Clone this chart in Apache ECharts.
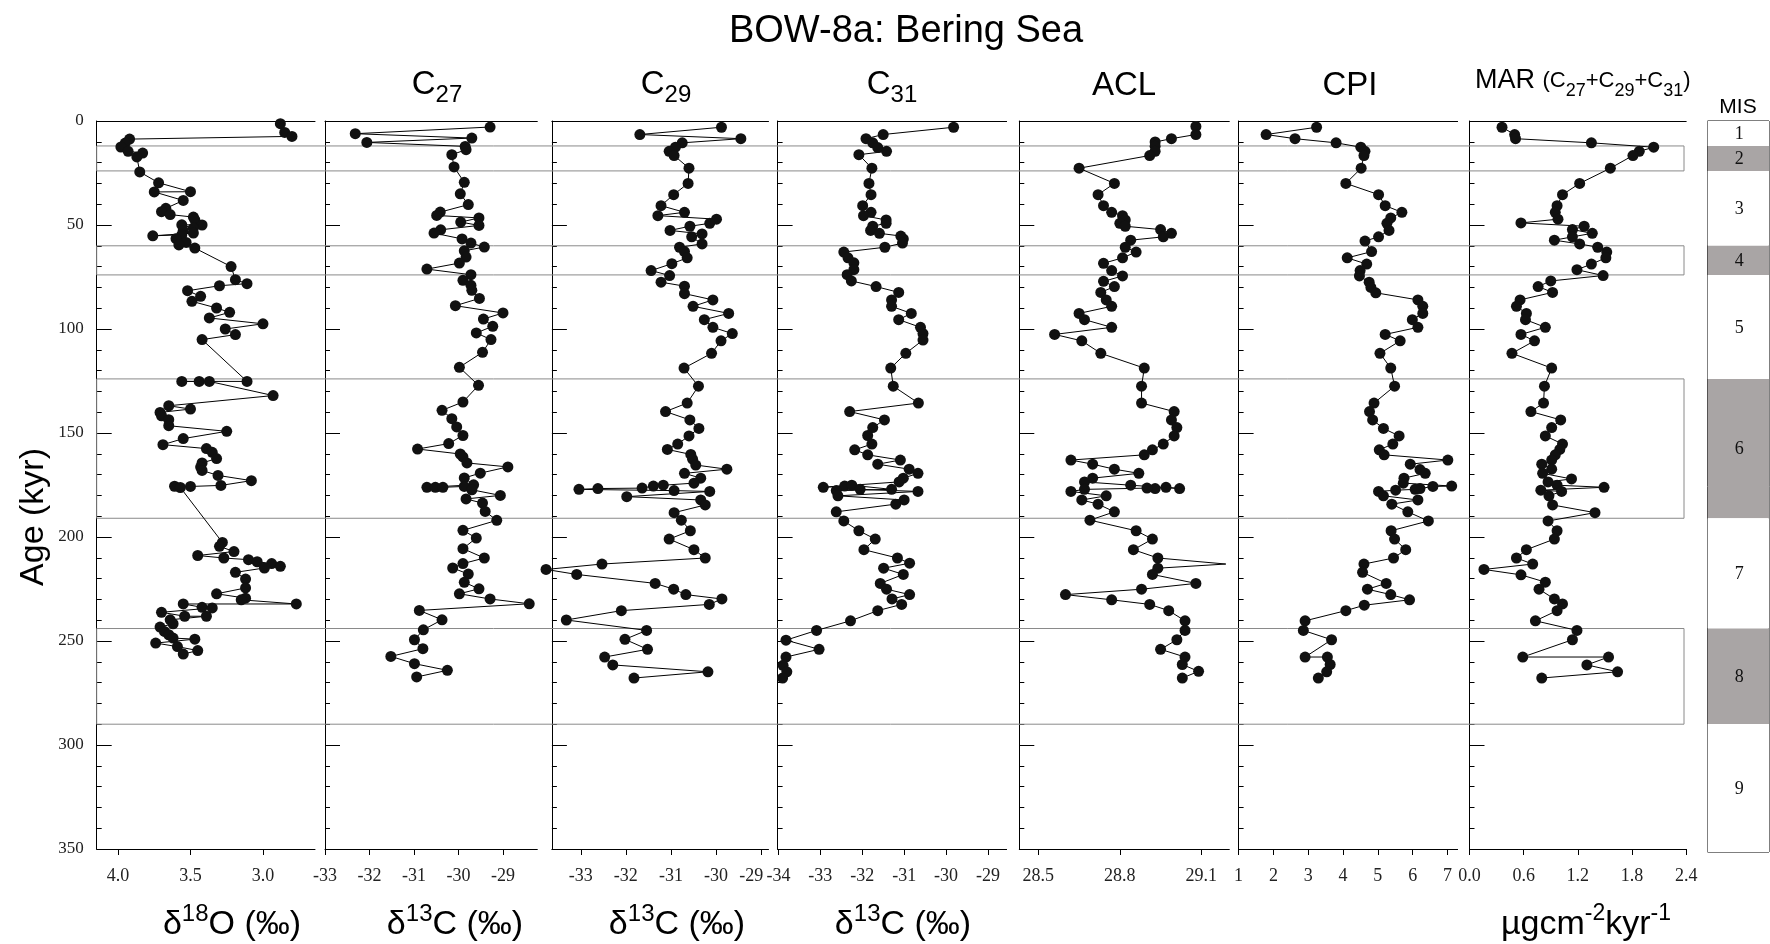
<!DOCTYPE html>
<html><head><meta charset="utf-8">
<script src="https://cdn.jsdelivr.net/npm/echarts@6/dist/echarts.min.js"></script>
<style>html,body{margin:0;padding:0;background:#fff}#c{width:1770px;height:944px}</style>
</head><body><div id="c"></div>
<script>
// ---------------- DATA ----------------
const misStages = ['1','2','3','4','5','6','7','8','9'];
const misBounds = [0, 12, 24, 60, 74, 124, 191, 244, 290, 351.5];

const ticksO18 = [4.0, 3.5, 3.0];
const ticksC27 = [-33, -32, -31, -30, -29];
const ticksC29 = [-33, -32, -31, -30, -29];
const ticksC31 = [-34, -33, -32, -31, -30, -29];
const ticksACL = [28.5, 28.8, 29.1];
const ticksCPI = [1, 2, 3, 4, 5, 6, 7];
const ticksMAR = [0.0, 0.6, 1.2, 1.8, 2.4];

// [value, age kyr]
const d18O = [[2.88,1.3],[2.85,5.5],[2.80,7.4],[3.92,8.7],[3.95,10.6],[3.98,12.5],[3.93,14.6],[3.83,15.4],[3.87,17.3],[3.85,24.5],[3.72,29.7],[3.50,34.0],[3.75,34.1],[3.55,38.2],[3.67,42.0],[3.70,43.6],[3.64,45.0],[3.48,46.2],[3.47,47.5],[3.42,50.0],[3.56,49.9],[3.48,51.5],[3.55,52.6],[3.48,53.9],[3.76,55.2],[3.56,54.7],[3.60,56.6],[3.53,58.4],[3.58,59.6],[3.47,61.1],[3.22,70.0],[3.19,76.3],[3.11,78.2],[3.30,79.2],[3.52,81.6],[3.43,84.3],[3.49,86.7],[3.32,89.9],[3.23,92.0],[3.37,94.7],[3.00,97.5],[3.26,100.0],[3.19,102.7],[3.42,105.1],[3.11,125.2],[3.56,125.2],[3.44,125.2],[3.37,125.2],[2.93,132.0],[3.65,136.9],[3.50,138.5],[3.71,140.1],[3.70,141.7],[3.65,143.6],[3.65,146.5],[3.25,149.2],[3.55,152.7],[3.69,155.6],[3.39,157.5],[3.35,159.3],[3.32,162.3],[3.42,164.4],[3.43,166.4],[3.42,168.0],[3.31,170.4],[3.08,172.9],[3.29,175.2],[3.50,175.7],[3.61,175.6],[3.57,176.2],[3.28,202.6],[3.30,204.5],[3.20,207.0],[3.45,208.9],[3.27,210.1],[3.10,210.9],[3.04,211.9],[2.94,212.8],[2.88,214.1],[2.99,214.9],[3.19,217.0],[3.12,220.2],[3.12,224.5],[3.32,227.3],[3.12,229.4],[3.15,230.2],[2.77,232.2],[3.55,232.2],[3.42,233.8],[3.35,234.1],[3.70,236.2],[3.54,238.1],[3.39,238.1],[3.64,239.8],[3.62,241.7],[3.71,243.3],[3.68,245.4],[3.65,247.0],[3.62,248.6],[3.47,249.1],[3.74,251.0],[3.59,252.7],[3.45,254.6],[3.55,256.3]];

const dC27 = [[-29.29,2.9],[-32.32,6.1],[-29.70,8.2],[-32.06,10.3],[-29.85,12.2],[-29.83,13.8],[-30.15,16.2],[-30.10,22.1],[-29.87,29.5],[-29.96,35.0],[-29.78,40.2],[-30.41,43.8],[-30.49,45.4],[-29.54,46.6],[-29.95,48.6],[-29.54,50.2],[-30.40,52.3],[-30.55,53.9],[-29.92,56.7],[-29.72,58.7],[-29.42,60.6],[-29.87,62.4],[-29.83,65.4],[-29.98,68.3],[-30.71,71.2],[-29.72,73.9],[-29.90,76.6],[-29.72,79.0],[-29.70,81.4],[-29.53,85.3],[-30.07,88.8],[-29.00,92.3],[-29.44,95.2],[-29.23,98.7],[-29.60,101.9],[-29.27,105.1],[-29.46,111.2],[-29.98,118.4],[-29.55,127.1],[-29.90,135.1],[-30.37,139.1],[-30.15,143.1],[-30.04,147.1],[-29.90,151.2],[-30.22,155.1],[-30.92,157.7],[-29.96,160.1],[-29.90,161.5],[-29.81,164.4],[-28.89,166.3],[-29.51,169.3],[-29.87,171.6],[-29.66,174.9],[-30.71,176.1],[-30.52,176.1],[-30.35,176.1],[-29.87,175.7],[-29.70,177.3],[-29.06,180.0],[-29.83,181.7],[-29.46,183.7],[-29.40,187.7],[-29.14,192.0],[-29.90,196.8],[-29.60,200.5],[-29.90,205.6],[-29.42,210.1],[-29.90,212.8],[-30.13,214.9],[-29.78,217.8],[-29.87,221.8],[-29.54,224.9],[-29.98,227.3],[-29.29,229.8],[-28.41,232.1],[-30.88,235.3],[-30.37,239.8],[-30.79,244.6],[-30.99,249.4],[-30.80,253.7],[-31.52,257.4],[-30.99,260.9],[-30.25,264.1],[-30.94,267.3]];

const dC29 = [[-29.88,3.0],[-31.69,6.5],[-29.45,8.5],[-30.75,10.5],[-30.90,12.6],[-31.04,14.6],[-30.93,16.6],[-30.60,22.7],[-30.62,30.0],[-30.94,35.4],[-31.22,40.7],[-30.70,43.9],[-31.29,45.5],[-29.99,47.2],[-30.14,49.2],[-30.58,50.6],[-31.02,52.6],[-30.31,54.3],[-30.54,55.7],[-30.31,59.1],[-30.81,60.7],[-30.70,62.8],[-30.64,65.8],[-30.98,68.6],[-31.44,71.9],[-31.03,74.3],[-31.22,77.5],[-30.70,79.4],[-30.70,83.0],[-30.07,86.0],[-30.51,89.1],[-29.72,92.5],[-30.26,95.5],[-30.07,99.2],[-29.64,102.2],[-29.89,105.7],[-30.10,111.7],[-30.71,118.8],[-30.39,127.5],[-30.64,135.6],[-31.12,139.7],[-30.58,143.7],[-30.38,147.8],[-30.60,151.4],[-30.85,155.3],[-31.08,157.9],[-30.56,160.3],[-30.52,162.6],[-30.45,165.4],[-29.76,167.4],[-30.70,169.4],[-30.34,171.7],[-30.49,174.1],[-31.17,175.1],[-31.39,175.5],[-31.64,176.5],[-32.62,176.7],[-33.04,177.1],[-30.93,177.7],[-30.14,178.1],[-31.98,180.6],[-30.34,182.2],[-30.24,184.6],[-30.93,188.3],[-30.77,191.9],[-30.57,197.0],[-31.04,201.0],[-30.49,206.1],[-30.24,210.1],[-32.53,213.0],[-33.77,215.6],[-33.09,218.0],[-31.35,222.3],[-30.94,225.1],[-30.67,227.7],[-29.87,229.8],[-30.15,232.4],[-32.10,235.4],[-33.32,239.9],[-31.54,244.9],[-32.02,249.2],[-31.52,254.0],[-32.47,257.7],[-32.29,261.5],[-30.18,264.8],[-31.82,267.8]];

const dC31 = [[-29.82,3.0],[-31.50,6.5],[-31.91,8.5],[-31.75,10.5],[-31.63,12.8],[-31.42,14.6],[-32.08,16.2],[-31.77,22.7],[-31.84,30.0],[-31.79,35.4],[-31.99,40.7],[-31.79,43.9],[-31.97,45.5],[-31.43,47.6],[-31.43,49.2],[-31.75,50.6],[-31.80,52.6],[-31.59,54.0],[-31.08,55.3],[-31.02,56.7],[-31.04,58.7],[-31.46,60.7],[-32.44,63.0],[-32.34,65.8],[-32.20,68.2],[-32.20,71.5],[-32.36,73.9],[-32.26,76.9],[-31.67,79.6],[-31.13,82.4],[-31.30,86.0],[-31.30,89.1],[-30.83,92.5],[-31.13,95.5],[-30.61,99.2],[-30.55,102.2],[-30.55,105.3],[-30.96,111.7],[-31.32,118.8],[-31.26,127.5],[-30.66,135.6],[-32.30,139.7],[-31.47,143.7],[-31.75,147.4],[-31.87,151.2],[-31.77,155.3],[-32.18,158.1],[-31.87,160.5],[-31.09,163.0],[-31.63,165.0],[-30.88,167.4],[-30.67,169.4],[-31.02,171.7],[-31.12,173.5],[-32.93,176.1],[-32.42,175.5],[-32.25,175.1],[-31.30,177.1],[-32.62,177.7],[-32.05,177.1],[-30.67,178.1],[-32.58,180.2],[-31.00,182.2],[-31.20,184.2],[-32.62,187.9],[-32.44,192.3],[-32.08,197.0],[-31.69,201.0],[-31.96,206.1],[-31.16,210.1],[-30.87,212.6],[-31.49,215.0],[-31.02,218.0],[-31.57,222.3],[-31.42,225.1],[-30.87,227.7],[-31.29,229.8],[-31.06,232.4],[-31.63,235.4],[-32.28,240.3],[-33.09,244.9],[-33.82,249.6],[-33.03,254.0],[-33.82,257.7],[-33.89,261.7],[-33.80,264.8],[-33.90,267.8]];

const dACL = [[29.08,2.6],[29.08,6.5],[28.99,8.5],[28.93,10.1],[28.93,12.1],[28.93,14.6],[28.91,16.6],[28.65,22.7],[28.78,30.0],[28.72,35.4],[28.74,40.7],[28.77,43.9],[28.81,45.5],[28.82,47.6],[28.80,49.2],[28.82,50.6],[28.95,52.2],[28.99,54.0],[28.96,55.7],[28.84,57.3],[28.82,60.7],[28.86,63.0],[28.81,65.8],[28.74,68.4],[28.77,71.9],[28.81,74.5],[28.74,77.1],[28.78,79.6],[28.73,82.4],[28.75,86.0],[28.77,89.1],[28.65,92.5],[28.67,95.5],[28.77,99.2],[28.56,102.6],[28.66,105.7],[28.73,111.7],[28.89,118.8],[28.88,127.5],[28.88,135.6],[29.00,139.7],[28.99,143.7],[29.01,147.4],[29.00,151.4],[28.96,155.3],[28.92,158.1],[28.89,160.5],[28.62,163.0],[28.70,165.0],[28.78,167.4],[28.87,169.4],[28.70,171.7],[28.67,173.5],[28.84,175.1],[29.02,176.7],[28.97,176.1],[28.93,176.7],[28.90,176.5],[28.67,177.1],[28.62,178.1],[28.75,180.2],[28.66,182.2],[28.72,184.2],[28.78,187.9],[28.69,191.9],[28.86,197.0],[28.92,201.0],[28.85,206.1],[28.94,210.1],[29.19,213.0],[28.94,215.0],[28.92,218.0],[29.08,222.3],[28.88,225.1],[28.60,227.7],[28.77,230.2],[28.91,232.4],[28.98,235.4],[29.04,240.3],[29.04,244.9],[29.01,249.4],[28.95,254.0],[29.04,257.7],[29.03,261.3],[29.09,264.6],[29.03,267.8]];
// ACL sample at 213 kyr is drawn as a line vertex without a dot
const aclNoDotAges = [213.0];

const dCPI = [[3.24,3.0],[1.79,6.5],[2.62,8.5],[3.80,10.5],[4.51,12.6],[4.63,14.6],[4.60,16.6],[4.52,22.7],[4.08,30.0],[5.02,35.4],[5.21,40.7],[5.69,43.9],[5.37,46.6],[5.26,49.2],[5.32,52.6],[5.02,55.7],[4.63,57.7],[4.82,62.8],[4.12,65.8],[4.68,68.8],[4.49,71.9],[4.47,74.5],[4.75,77.5],[4.80,80.0],[4.94,82.6],[6.15,86.0],[6.29,89.1],[6.29,92.5],[5.99,95.5],[6.15,99.2],[5.21,102.6],[5.64,105.7],[5.06,111.7],[5.37,118.8],[5.48,127.5],[4.89,135.6],[4.76,139.7],[4.85,143.7],[5.16,147.8],[5.61,151.4],[5.43,155.3],[5.04,158.1],[5.18,160.5],[7.01,163.0],[5.93,165.0],[6.21,167.6],[6.36,169.4],[5.75,171.7],[5.73,174.1],[7.12,175.5],[6.58,175.7],[6.21,176.7],[6.07,177.1],[5.51,177.5],[5.02,178.1],[5.16,180.2],[6.15,182.2],[5.40,184.2],[5.86,187.9],[6.45,192.3],[5.38,197.0],[5.48,201.0],[5.80,206.1],[5.45,210.1],[4.60,213.0],[4.56,217.0],[5.24,222.3],[4.70,225.1],[5.37,227.7],[5.91,230.2],[4.61,232.8],[4.08,235.4],[2.91,240.3],[2.86,244.9],[3.67,249.4],[2.91,257.7],[3.55,257.7],[3.63,261.3],[3.53,264.8],[3.29,267.8]];

const dMAR = [[0.36,3.0],[0.50,6.5],[0.51,8.5],[1.35,10.5],[2.04,12.6],[1.88,14.6],[1.81,16.6],[1.56,22.7],[1.22,30.0],[1.03,35.4],[0.97,40.7],[0.95,43.9],[0.98,47.2],[0.57,49.0],[1.27,50.6],[1.14,52.2],[1.36,54.0],[1.14,55.7],[0.94,57.3],[1.22,59.1],[1.42,60.7],[1.52,63.0],[1.51,65.8],[1.35,68.8],[1.19,71.5],[1.48,74.3],[0.90,76.9],[0.76,79.6],[0.92,82.4],[0.56,86.0],[0.52,89.1],[0.63,92.5],[0.62,95.5],[0.84,99.2],[0.57,102.6],[0.72,105.7],[0.47,111.7],[0.91,118.8],[0.83,127.5],[0.82,135.6],[0.68,139.7],[1.01,143.7],[0.91,147.4],[0.84,151.4],[1.03,155.3],[1.00,157.9],[0.95,160.5],[0.91,163.0],[0.80,165.0],[0.91,167.4],[0.81,169.4],[1.13,172.1],[0.87,173.5],[0.97,175.1],[1.49,176.1],[0.79,177.5],[1.02,178.1],[0.88,180.2],[0.92,184.6],[1.39,188.3],[0.87,192.3],[0.97,197.0],[0.94,201.0],[0.63,206.1],[0.52,210.1],[0.70,213.0],[0.16,215.6],[0.57,218.2],[0.84,221.7],[0.77,225.1],[0.94,229.8],[1.03,232.2],[0.97,235.4],[0.73,240.3],[1.19,244.9],[1.14,249.4],[0.59,257.7],[1.54,257.7],[1.30,261.5],[1.64,264.8],[0.80,267.8]];

// ---------------- LAYOUT ----------------
const SANS = '"Liberation Sans", Arial, sans-serif';
const SERIF = '"Liberation Serif", "Times New Roman", serif';
const TOP = 121, BOTTOM = 95;

const panels = [
  {data:d18O, ticks:ticksO18, dec:1, min:2.641, max:4.147, inverse:true, left:96.7, width:218.3},
  {data:dC27, ticks:ticksC27, dec:0, min:-33,   max:-28.229, left:325,   width:212.3},
  {data:dC29, ticks:ticksC29, dec:0, min:-33.64,max:-28.837, left:551.9, width:216.6, shiftLast:true},
  {data:dC31, ticks:ticksC31, dec:0, min:-34.02,max:-28.555, left:777.6, width:229},
  {data:dACL, ticks:ticksACL, dec:1, min:28.43, max:29.203, left:1019.3,width:210, noDot:aclNoDotAges},
  {data:dCPI, ticks:ticksCPI, dec:0, min:1,     max:7.29,   left:1238.6,width:219},
  {data:dMAR, ticks:ticksMAR, dec:1, min:0,     max:2.4,    left:1469.5,width:216.7}
];

const grids = [], xAxes = [], yAxes = [], series = [];
panels.forEach((p, i) => {
  const lastTick = p.ticks[p.ticks.length - 1];
  grids.push({left:p.left, width:p.width, top:TOP, bottom:BOTTOM, containLabel:false});
  xAxes.push({
    type:'value', gridIndex:i, position:'bottom', min:p.min, max:p.max, inverse:!!p.inverse,
    axisLine:{show:true, onZero:false, lineStyle:{color:'#000', width:1}},
    axisTick:{show:true, inside:false, length:6, customValues:p.ticks, lineStyle:{color:'#000'}},
    axisLabel:{show:true, customValues:p.ticks, margin:18, fontFamily:SERIF, fontSize:18, color:'#222',
               formatter:(v)=>{
                 const s = Number(v).toFixed(p.dec);
                 return (p.shiftLast && Math.abs(v - lastTick) < 1e-9) ? '{r|' + s + '}' : s;
               },
               rich:{r:{fontFamily:SERIF, fontSize:18, color:'#222', padding:[0,20,0,0]}}},
    splitLine:{show:false}
  });
  yAxes.push({
    type:'value', gridIndex:i, min:0, max:350, interval:50, inverse:true,
    axisLine:{show:true, onZero:false, lineStyle:{color:'#000', width:1}},
    axisTick:{show:true, inside:true, length:15, lineStyle:{color:'#000'}},
    minorTick:{show:true, splitNumber:5, length:5, lineStyle:{color:'#000'}},
    axisLabel:{show:i===0, margin:13, fontFamily:SERIF, fontSize:17, color:'#222'},
    splitLine:{show:false}
  });
  const data = p.data.map(d => (p.noDot && p.noDot.indexOf(d[1]) >= 0)
    ? {value:d, symbol:'none'} : d);
  series.push({
    type:'line', xAxisIndex:i, yAxisIndex:i, data:data, clip:false, z:3,
    symbol:'circle', symbolSize:11, showAllSymbol:true,
    lineStyle:{color:'#000', width:1}, itemStyle:{color:'#111'},
    emphasis:{disabled:true}, animation:false
  });
});
// top border lines
panels.forEach((p, i) => {
  xAxes.push({
    type:'value', gridIndex:i, position:'top', min:p.min, max:p.max, inverse:!!p.inverse,
    axisLine:{show:true, onZero:false, lineStyle:{color:'#000', width:1}},
    axisTick:{show:false}, axisLabel:{show:false}, splitLine:{show:false}
  });
});

// overlay grid for glacial boxes
const gBox = grids.length;
grids.push({left:96.7, right:1770-1684, top:TOP, bottom:BOTTOM, containLabel:false});
const xBox = xAxes.length;
xAxes.push({type:'value', gridIndex:gBox, min:0, max:1, show:false});
const yBox = yAxes.length;
yAxes.push({type:'value', gridIndex:gBox, min:0, max:350, inverse:true, show:false});
const glacial = [];
for (let k = 1; k < misStages.length; k += 2) glacial.push([misBounds[k], misBounds[k+1]]);
series.push({
  type:'custom', xAxisIndex:xBox, yAxisIndex:yBox, z:1, silent:true, data:glacial,
  renderItem:(params, api) => {
    const a = api.coord([0, api.value(0)]), b = api.coord([1, api.value(1)]);
    return {type:'rect', shape:{x:a[0], y:a[1], width:b[0]-a[0], height:b[1]-a[1]},
            style:{fill:'none', stroke:'#8a8a8a', lineWidth:1}};
  }
});

// MIS column
const gMis = grids.length;
grids.push({left:1707.5, right:1, top:TOP, bottom:944-852, containLabel:false,
            show:true, borderColor:'#000', borderWidth:1, backgroundColor:'transparent'});
const xMis = xAxes.length;
xAxes.push({type:'value', gridIndex:gMis, min:0, max:1, show:false});
const yMis = yAxes.length;
yAxes.push({type:'value', gridIndex:gMis, min:0, max:351.5, inverse:true, show:false});
const misData = misStages.map((s, k) => [misBounds[k], misBounds[k+1], k]);
series.push({
  type:'custom', xAxisIndex:xMis, yAxisIndex:yMis, z:1, silent:true, data:misData,
  renderItem:(params, api) => {
    const k = api.value(2);
    const a = api.coord([0, api.value(0)]), b = api.coord([1, api.value(1)]);
    return {type:'group', children:[
      {type:'rect', shape:{x:a[0], y:a[1], width:b[0]-a[0], height:b[1]-a[1]},
       style:{fill: k % 2 === 1 ? '#a9a5a5' : '#ffffff', stroke:'none'}},
      {type:'text', x:(a[0]+b[0])/2 + 1, y:(a[1]+b[1])/2 + 1,
       style:{text:misStages[k], fontFamily:SERIF, fontSize:18, fill:'#111', align:'center', verticalAlign:'middle'}}
    ]};
  }
});

// ---------------- TEXT ----------------
function txt(x, y, text, rich, align) {
  return {type:'text', x:x, y:y, silent:true,
    style:{text:text, rich:rich, fontFamily:SANS, fontSize:32, fill:'#000',
           align:align || 'center', verticalAlign:'middle'}};
}
const R = (big, sm, pad) => ({
  n:{fontFamily:SANS, fontSize:big, fill:'#000'},
  s:{fontFamily:SANS, fontSize:sm, fill:'#000', padding:[pad,0,0,0]},
  p:{fontFamily:SANS, fontSize:sm, fill:'#000', padding:[0,0,pad,0]}
});
const rT = R(33, 24, 20);
const rB = R(34, 24, 22);
const rM = {
  m:{fontFamily:SANS, fontSize:27, fill:'#000'},
  n:{fontFamily:SANS, fontSize:22, fill:'#000'},
  s:{fontFamily:SANS, fontSize:18, fill:'#000', padding:[20,0,0,0]}
};
const rU = {
  n:{fontFamily:SANS, fontSize:34, fill:'#000'},
  p:{fontFamily:SANS, fontSize:23, fill:'#000', padding:[0,0,22,0]}
};

const graphic = [
  {type:'text', x:906, y:32, silent:true,
   style:{text:'BOW-8a: Bering Sea', fontFamily:SANS, fontSize:38, fill:'#000', align:'center', verticalAlign:'middle'}},
  txt(437, 85, '{n|C}{s|27}', rT),
  txt(666, 85, '{n|C}{s|29}', rT),
  txt(892, 85, '{n|C}{s|31}', rT),
  txt(1124, 86, '{n|ACL}', rT),
  txt(1350, 86, '{n|CPI}', rT),
  txt(1475, 81, '{m|MAR }{n|(C}{s|27}{n|+C}{s|29}{n|+C}{s|31}{n|)}', rM, 'left'),
  {type:'text', x:1738, y:107, silent:true, style:{text:'MIS', fontFamily:SANS, fontSize:21, fill:'#000', align:'center', verticalAlign:'middle'}},
  {type:'text', x:34, y:517, rotation:Math.PI/2, silent:true,
   style:{text:'Age (kyr)', fontFamily:SANS, fontSize:34, fill:'#000', align:'center', verticalAlign:'middle'}},
  txt(232, 925, '{n|δ}{p|18}{n|O (‰)}', rB),
  txt(455, 925, '{n|δ}{p|13}{n|C (‰)}', rB),
  txt(677, 925, '{n|δ}{p|13}{n|C (‰)}', rB),
  txt(903, 925, '{n|δ}{p|13}{n|C (‰)}', rB),
  txt(1586, 925, '{n|µgcm}{p|-2}{n|kyr}{p|-1}', rU)
];

const chart = echarts.init(document.getElementById('c'), null, {renderer:'canvas'});
chart.setOption({
  animation:false,
  backgroundColor:'#ffffff',
  grid:grids, xAxis:xAxes, yAxis:yAxes, series:series, graphic:graphic
});
</script>
</body></html>
